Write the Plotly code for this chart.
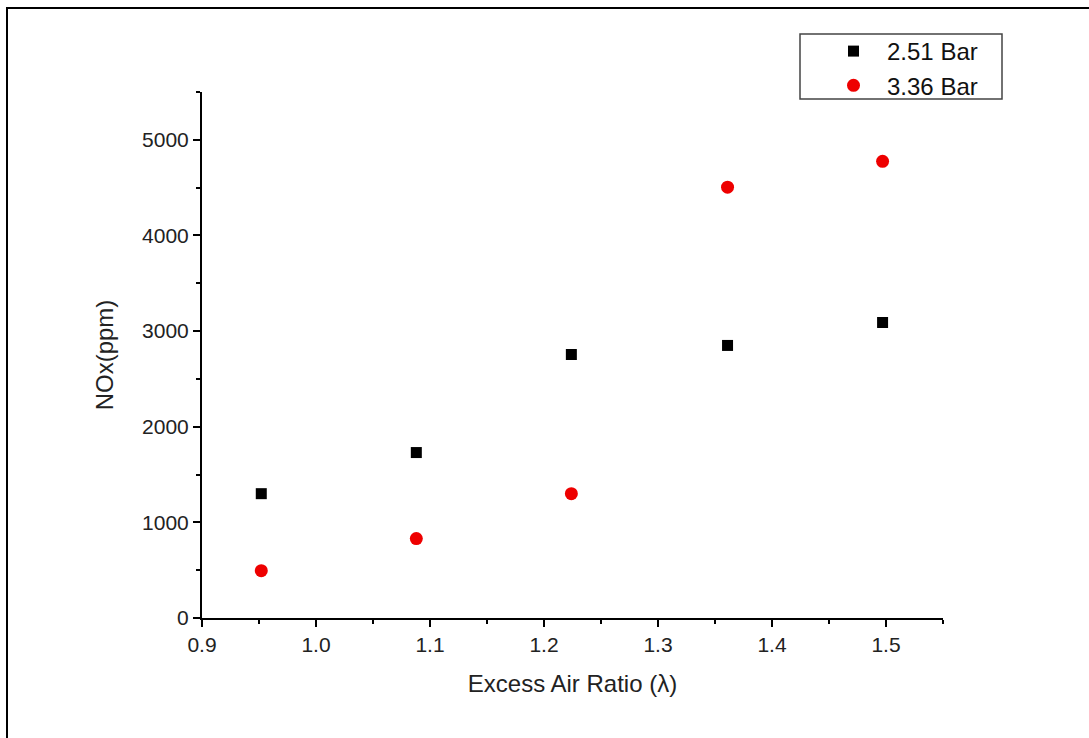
import plotly.graph_objects as go

# Data
lam = [0.952, 1.088, 1.224, 1.361, 1.497]
nox_251 = [1300, 1730, 2755, 2850, 3090]
nox_336 = [495, 830, 1300, 4505, 4775]
series_names = ["2.51 Bar", "3.36 Bar"]
x_ticks = [0.9, 1.0, 1.1, 1.2, 1.3, 1.4, 1.5]
x_tick_labels = ["0.9", "1.0", "1.1", "1.2", "1.3", "1.4", "1.5"]
y_ticks = [0, 1000, 2000, 3000, 4000, 5000]

W, H = 1089, 738
L, R, T, B = 202, 1089 - 943, 92, 738 - 618
pw, ph = W - L - R, H - T - B

def px(x):
    return (x - L) / pw

def py(y):
    return (H - B - y) / ph

FONT = "Arial, Liberation Sans, sans-serif"

fig = go.Figure()
fig.add_trace(go.Scatter(x=lam, y=nox_251, mode="markers", name=series_names[0],
                         marker=dict(symbol="square", size=11, color="black")))
fig.add_trace(go.Scatter(x=lam, y=nox_336, mode="markers", name=series_names[1],
                         marker=dict(symbol="circle", size=13, color="#ee0000")))

axis_common = dict(showline=True, linecolor="black", linewidth=2, ticks="outside",
                   ticklen=7, tickwidth=2, tickcolor="black", showgrid=False,
                   zeroline=False, mirror=False,
                   tickfont=dict(family=FONT, size=21, color="#222"))

fig.update_xaxes(range=[0.9, 1.55], tickvals=x_ticks, ticktext=x_tick_labels,
                 minor=dict(ticks="outside", ticklen=4, tickwidth=2, tickcolor="black", dtick=0.05, tick0=0.9),
                 title=dict(text="Excess Air Ratio (λ)", font=dict(family=FONT, size=24, color="#222"), standoff=20),
                 **axis_common)
fig.update_yaxes(range=[0, 5500], tickvals=y_ticks,
                 minor=dict(ticks="outside", ticklen=4, tickwidth=2, tickcolor="black", dtick=500, tick0=0),
                 title=dict(text="NOx(ppm)", font=dict(family=FONT, size=24, color="#222"), standoff=22),
                 **axis_common)

fig.update_layout(
    width=W, height=H,
    margin=dict(l=L, r=R, t=T, b=B),
    paper_bgcolor="white", plot_bgcolor="white",
    showlegend=True,
    legend=dict(x=px(800), y=py(29), xanchor="left", yanchor="top",
                borderwidth=0, bgcolor="rgba(0,0,0,0)",
                font=dict(family=FONT, size=24, color="#111"),
                indentation=20, itemwidth=57,
                itemsizing="trace", tracegroupgap=0),
    shapes=[dict(type="rect", xref="paper", yref="paper",
                 x0=px(7), x1=px(1100), y0=py(750), y1=py(8),
                 line=dict(color="black", width=2)),
            dict(type="rect", xref="paper", yref="paper",
                 x0=px(800), x1=px(1002), y0=py(99), y1=py(34),
                 line=dict(color="#444", width=1.5))],
)

fig.write_html("out.html")
